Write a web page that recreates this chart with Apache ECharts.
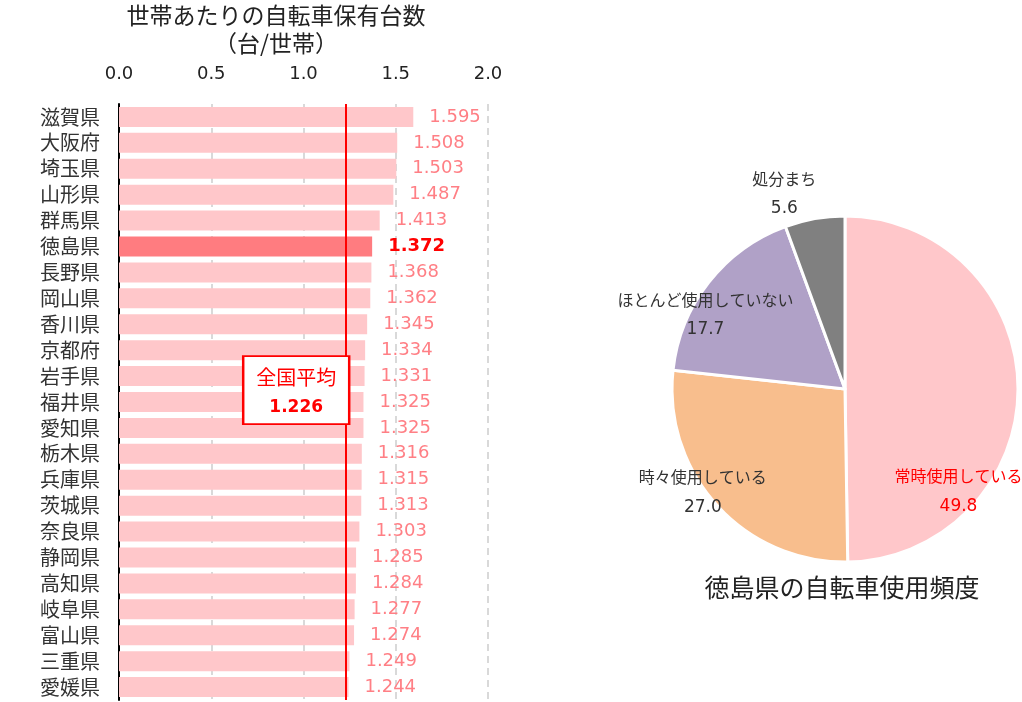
<!DOCTYPE html>
<html>
<head>
<meta charset="utf-8">
<script src="https://cdn.jsdelivr.net/npm/echarts@6/dist/echarts.min.js"></script>
<style>
  html, body { margin: 0; padding: 0; background: #fff; }
  #chart { width: 1022px; height: 702px; }
</style>
</head>
<body>
<div id="chart"></div>
<script>
// 都道府県別 世帯あたりの自転車保有台数
const prefs = ['滋賀県', '大阪府', '埼玉県', '山形県', '群馬県', '徳島県', '長野県', '岡山県', '香川県', '京都府', '岩手県', '福井県',
  '愛知県', '栃木県', '兵庫県', '茨城県', '奈良県', '静岡県', '高知県', '岐阜県', '富山県', '三重県', '愛媛県']
const bikes = [1.595, 1.508, 1.503, 1.487, 1.413, 1.372, 1.368, 1.362, 1.345, 1.334, 1.331, 1.325,
  1.325, 1.316, 1.315, 1.313, 1.303, 1.285, 1.284, 1.277, 1.274, 1.249, 1.244]
const xTicks = [0, 0.5, 1.0, 1.5, 2.0]
const nationalAvg = 1.226
const highlight = '徳島県'

// 徳島県の自転車使用頻度 (%)
const useNames = ['常時使用している', '時々使用している', 'ほとんど使用していない', '処分まち']
const useValues = [49.8, 27.0, 17.7, 5.6]

const FONT = '"Noto Sans CJK JP", "Noto Sans", sans-serif'
const NUM_FONT = '"DejaVu Sans", sans-serif'
const pieColors = ['#FFC7CA', '#F8BE8D', '#B0A1C7', '#808080']
// 各ラベルの位置調整
const pieOffsets = [[24, 103], [-76, 43], [-69, -19], [-45, -107]]

let chart = echarts.init(document.getElementById('chart'))

const barData = bikes.map((v, i) => {
  if (prefs[i] !== highlight) return v
  return {
    value: v,
    itemStyle: { color: '#FF7C80' },
    label: { color: '#FF0000', fontWeight: 'bold' }
  }
})

const pieData = useValues.map((v, i) => {
  const c = i === 0 ? '#FF0000' : '#333333'
  return {
    name: useNames[i],
    value: v,
    itemStyle: { color: pieColors[i] },
    label: {
      offset: pieOffsets[i],
      rich: {
        n: { fontSize: 16, color: c, lineHeight: 30, fontFamily: FONT },
        v: { fontSize: 17, color: c, lineHeight: 30, fontFamily: NUM_FONT }
      }
    }
  }
})

chart.setOption({
  textStyle: { fontFamily: FONT },
  animation: false,
  title: [
    {
      text: '世帯あたりの自転車保有台数\n（台/世帯）',
      left: 276,
      top: 1,
      padding: 0,
      textAlign: 'center',
      textStyle: { fontSize: 23, fontWeight: 'normal', color: '#222', lineHeight: 28, fontFamily: FONT }
    },
    {
      text: '徳島県の自転車使用頻度',
      left: 842,
      top: 573,
      padding: 0,
      textAlign: 'center',
      textStyle: { fontSize: 25, fontWeight: 'normal', color: '#222', lineHeight: 28, fontFamily: FONT }
    }
  ],
  grid: {
    left: 119,
    right: 534,
    top: 104,
    height: 596
  },
  xAxis: {
    type: 'value',
    position: 'top',
    min: xTicks[0],
    max: xTicks[xTicks.length - 1],
    interval: 0.5,
    axisLine: { show: false },
    axisTick: { show: false },
    axisLabel: {
      margin: 21,
      fontSize: 18,
      color: '#222',
      fontFamily: NUM_FONT,
      formatter: v => v.toFixed(1)
    },
    splitLine: {
      show: true,
      lineStyle: { color: '#D9D9D9', width: 2, type: [7, 5] }
    }
  },
  yAxis: {
    type: 'category',
    inverse: true,
    data: prefs,
    axisLine: { show: true, lineStyle: { color: '#000', width: 2 } },
    axisTick: { show: false },
    axisLabel: { interval: 0, margin: 19, fontSize: 20, color: '#333' }
  },
  series: [
    {
      type: 'bar',
      data: barData,
      barWidth: 20,
      itemStyle: { color: '#FFC7CA' },
      label: {
        show: true,
        position: 'right',
        distance: 16,
        fontSize: 18,
        fontFamily: NUM_FONT,
        color: '#FF7F85',
        formatter: p => p.value.toFixed(3)
      },
      markLine: {
        silent: true,
        symbol: 'none',
        lineStyle: { color: '#FF0000', width: 2, type: 'solid' },
        label: { show: false },
        data: [{ xAxis: nationalAvg }]
      },
      markPoint: {
        silent: true,
        symbol: 'rect',
        symbolSize: [106, 68],
        symbolOffset: [-49, 14],
        itemStyle: { color: '#fff', borderColor: '#FF0000', borderWidth: 2 },
        label: {
          show: true,
          formatter: '{a|全国平均}\n{b|' + nationalAvg.toFixed(3) + '}',
          rich: {
            a: { fontSize: 20, color: '#FF0000', lineHeight: 34, fontFamily: FONT },
            b: { fontSize: 17, color: '#FF0000', fontWeight: 'bold', lineHeight: 26, fontFamily: NUM_FONT }
          }
        },
        data: [{ coord: [nationalAvg, '岩手県'] }]
      }
    },
    {
      type: 'pie',
      center: [845, 389],
      radius: 173,
      startAngle: 90,
      clockwise: true,
      data: pieData,
      itemStyle: { borderColor: '#fff', borderWidth: 3 },
      label: {
        show: true,
        position: 'inside',
        formatter: p => '{n|' + p.name + '}\n{v|' + p.value.toFixed(1) + '}'
      },
      labelLine: { show: false }
    }
  ]
})
</script>
</body>
</html>
